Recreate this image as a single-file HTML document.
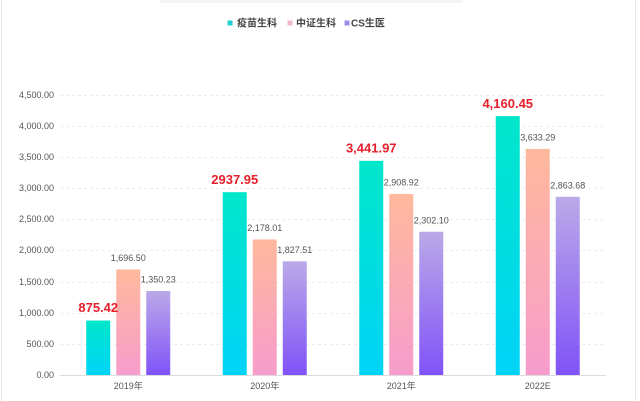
<!DOCTYPE html>
<html>
<head>
<meta charset="utf-8">
<style>
  html,body{margin:0;padding:0;background:#fff;}
  body{width:640px;height:401px;overflow:hidden;}
  svg{display:block;}
  text{font-family:"Liberation Sans","Noto Sans CJK SC",sans-serif;}
</style>
</head>
<body>
<svg width="640" height="401" viewBox="0 0 640 401" xmlns="http://www.w3.org/2000/svg">
  <defs>
    <linearGradient id="g1" x1="0" y1="0" x2="0" y2="1">
      <stop offset="0" stop-color="#00E6CA"/>
      <stop offset="1" stop-color="#00D3F8"/>
    </linearGradient>
    <linearGradient id="g2" x1="0" y1="0" x2="0" y2="1">
      <stop offset="0" stop-color="#FFB99C"/>
      <stop offset="1" stop-color="#F79CCC"/>
    </linearGradient>
    <linearGradient id="g3" x1="0" y1="0" x2="0" y2="1">
      <stop offset="0" stop-color="#BBA9E8"/>
      <stop offset="1" stop-color="#8053F8"/>
    </linearGradient>
  </defs>
  <rect x="0" y="0" width="640" height="401" fill="#fff"/>
  <!-- borders -->
  <line x1="1.5" y1="0" x2="1.5" y2="401" stroke="#e3e3e3" stroke-width="1"/>
  <line x1="635.5" y1="0" x2="635.5" y2="401" stroke="#e8e8e8" stroke-width="1"/>
  <!-- faint cut-off title -->
  <rect x="160" y="0" width="303" height="3" fill="#f4f4f4"/>

  <!-- legend -->
  <rect x="227.5" y="20.5" width="5" height="5" fill="#22CFD6"/>
  <text x="237" y="26.5" font-size="10" font-weight="bold" fill="#444">疫苗生科</text>
  <rect x="287.5" y="20.5" width="5" height="5" fill="#F0B8C6"/>
  <text x="296" y="26.5" font-size="10" font-weight="bold" fill="#444">中证生科</text>
  <rect x="344.5" y="20.5" width="5" height="5" fill="#9C8CE6"/>
  <text x="351" y="26.5" font-size="10" font-weight="bold" fill="#444">CS生医</text>

  <!-- grid -->
  <g stroke="#ececec" stroke-width="1" stroke-dasharray="3,3">
    <line x1="60" y1="95.5" x2="606" y2="95.5"/>
    <line x1="60" y1="126.5" x2="606" y2="126.5"/>
    <line x1="60" y1="157.5" x2="606" y2="157.5"/>
    <line x1="60" y1="188.5" x2="606" y2="188.5"/>
    <line x1="60" y1="219.5" x2="606" y2="219.5"/>
    <line x1="60" y1="250.5" x2="606" y2="250.5"/>
    <line x1="60" y1="282.5" x2="606" y2="282.5"/>
    <line x1="60" y1="313.5" x2="606" y2="313.5"/>
    <line x1="60" y1="344.5" x2="606" y2="344.5"/>
  </g>
  <line x1="60" y1="375.5" x2="606" y2="375.5" stroke="#dcdcdc" stroke-width="1"/>

  <!-- y labels -->
  <g font-size="9" fill="#555" text-anchor="end">
    <text x="54" y="98">4,500.00</text>
    <text x="54" y="129">4,000.00</text>
    <text x="54" y="160">3,500.00</text>
    <text x="54" y="191">3,000.00</text>
    <text x="54" y="222">2,500.00</text>
    <text x="54" y="253">2,000.00</text>
    <text x="54" y="285">1,500.00</text>
    <text x="54" y="316">1,000.00</text>
    <text x="54" y="347">500.00</text>
    <text x="54" y="378">0.00</text>
  </g>

  <!-- x labels -->
  <g font-size="9" fill="#555" text-anchor="middle">
    <text x="128.25" y="389">2019年</text>
    <text x="264.75" y="389">2020年</text>
    <text x="401.25" y="389">2021年</text>
    <text x="537.75" y="389">2022E</text>
  </g>

  <!-- bars 2019 -->
  <rect x="86.25" y="320.53" width="24" height="54.47" fill="url(#g1)"/>
  <rect x="116.25" y="269.44" width="24" height="105.56" fill="url(#g2)"/>
  <rect x="146.25" y="290.99" width="24" height="84.01" fill="url(#g3)"/>
  <!-- 2020 -->
  <rect x="222.75" y="192.20" width="24" height="182.80" fill="url(#g1)"/>
  <rect x="252.75" y="239.48" width="24" height="135.52" fill="url(#g2)"/>
  <rect x="282.75" y="261.29" width="24" height="113.71" fill="url(#g3)"/>
  <!-- 2021 -->
  <rect x="359.25" y="160.83" width="24" height="214.17" fill="url(#g1)"/>
  <rect x="389.25" y="194.00" width="24" height="181.00" fill="url(#g2)"/>
  <rect x="419.25" y="231.76" width="24" height="143.24" fill="url(#g3)"/>
  <!-- 2022 -->
  <rect x="495.75" y="116.13" width="24" height="258.87" fill="url(#g1)"/>
  <rect x="525.75" y="148.93" width="24" height="226.07" fill="url(#g2)"/>
  <rect x="555.75" y="196.82" width="24" height="178.18" fill="url(#g3)"/>

  <!-- red labels -->
  <g font-size="13" font-weight="bold" fill="#E5202B" text-anchor="middle">
    <text x="98.25" y="312">875.42</text>
    <text x="234.75" y="184">2937.95</text>
    <text x="371.25" y="152.5">3,441.97</text>
    <text x="507.75" y="108">4,160.45</text>
  </g>
  <!-- gray labels -->
  <g font-size="9" fill="#555" text-anchor="middle">
    <text x="128.25" y="261">1,696.50</text>
    <text x="158.25" y="282.5">1,350.23</text>
    <text x="264.75" y="231">2,178.01</text>
    <text x="294.75" y="253">1,827.51</text>
    <text x="401.25" y="185.5">2,908.92</text>
    <text x="431.25" y="223.5">2,302.10</text>
    <text x="537.75" y="140.5">3,633.29</text>
    <text x="567.75" y="188.5">2,863.68</text>
  </g>
</svg>
</body>
</html>
